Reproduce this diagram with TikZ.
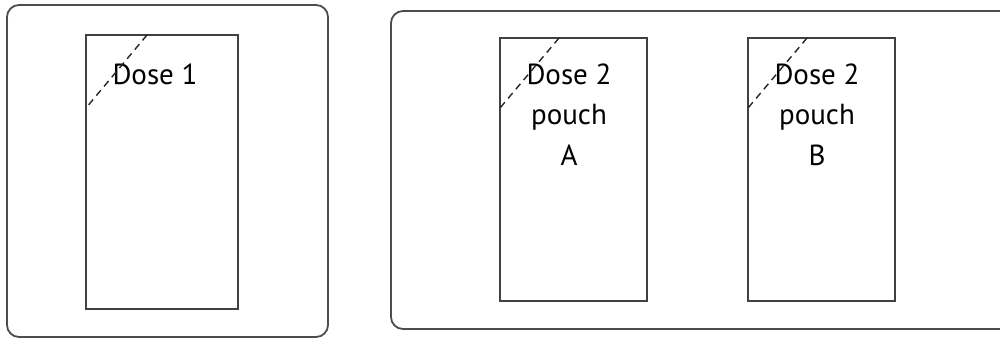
\documentclass[tikz,border=0pt]{standalone}
\usepackage{fontspec}
\setmainfont{PT Sans}
\begin{document}
\begin{tikzpicture}[x=1pt,y=-1pt,
  panel/.style={draw=black!70, line width=1.8pt, rounded corners=12pt},
  pouchbox/.style={draw=black!75, line width=1.4pt},
  tear/.style={draw=black!85, line width=1.4pt, dash pattern=on 7pt off 5pt},
  lbl/.style={font=\fontsize{29}{40}\selectfont, align=center, inner sep=0pt, anchor=base, text=black}]
\useasboundingbox (0,0) rectangle (1000,339);
\clip (0,0) rectangle (1000,339);
% panels
\draw[panel] (7,5) rectangle (328,337);
\draw[panel] (391,11) rectangle (1020,329);
% pouch boxes
\draw[pouchbox] (86,35) rectangle (238,309);
\draw[pouchbox] (500,38) rectangle (647,301);
\draw[pouchbox] (748,38) rectangle (895,301);
% labels (base anchor = baseline of last line)
\node[lbl] (d1) at (155,85) {Dose 1};
\node[lbl] (d2a) at (569,165) {Dose 2\\pouch\\A};
\node[lbl] (d2b) at (817,165) {Dose 2\\pouch\\B};
% tear lines
\coordinate (t1a) at (147,35); \coordinate (t1b) at (86,108);
\coordinate (t2a) at (559,38); \coordinate (t2b) at (500,108);
\coordinate (t3a) at (807,38); \coordinate (t3b) at (748,108);
\draw[tear] (t1a) -- (t1b);
\draw[tear] (t2a) -- (t2b);
\draw[tear] (t3a) -- (t3b);
\end{tikzpicture}
\end{document}
